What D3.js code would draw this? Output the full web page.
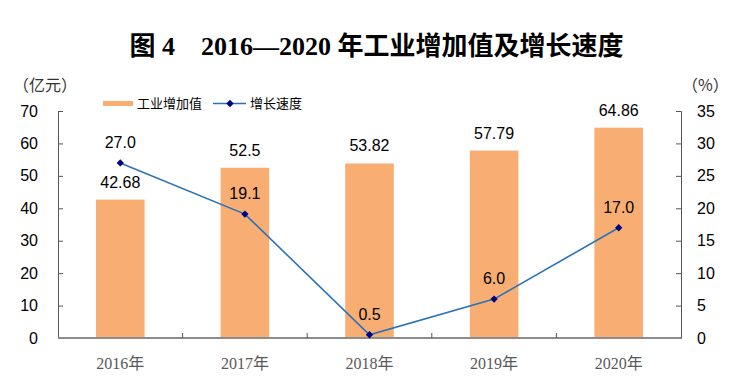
<!DOCTYPE html>
<html>
<head>
<meta charset="utf-8">
<script src="https://cdn.jsdelivr.net/npm/d3@7/dist/d3.min.js"></script>
<style>
  body { margin: 0; background: #fff; }
  svg { display: block; }
</style>
</head>
<body>
<div id="chart"></div>
<script>
// data
var years = ["2016年", "2017年", "2018年", "2019年", "2020年"];
var addedValue = [42.68, 52.5, 53.82, 57.79, 64.86];
var growthRate = [27.0, 19.1, 0.5, 6.0, 17.0];
var leftTicks = [0, 10, 20, 30, 40, 50, 60, 70];
var rightTicks = [0, 5, 10, 15, 20, 25, 30, 35];

var width = 753, height = 389;
var margin = {left: 58, right: 72, top: 111, bottom: 51};

var svg = d3.select("#chart").append("svg")
  .attr("width", width)
  .attr("height", height);

var x = d3.scaleBand()
  .domain(years)
  .range([margin.left, width - margin.right])
  .paddingInner(0.61)
  .paddingOuter(0.305);

var xb = d3.scaleBand()
  .domain(years)
  .range([margin.left, width - margin.right]);

var yL = d3.scaleLinear().domain([0, 70]).range([height - margin.bottom, margin.top]);
var yR = d3.scaleLinear().domain([0, 35]).range([height - margin.bottom, margin.top]);

var numFont = "'Liberation Sans', Arial, sans-serif";
var cjkFont = "'Noto Sans CJK SC', sans-serif";

// title
svg.append("text")
  .attr("x", width / 2)
  .attr("y", 55)
  .attr("text-anchor", "middle")
  .style("font-family", "'Liberation Serif', 'Noto Sans CJK SC', serif")
  .style("font-weight", "bold")
  .style("font-size", "26px")
  .text("图 4\u30002016—2020 年工业增加值及增长速度");

// unit labels
svg.append("text")
  .attr("x", 13).attr("y", 91)
  .style("font-family", cjkFont).style("font-size", "16px").style("fill", "#333")
  .text("（亿元）");
svg.append("text")
  .attr("x", 682).attr("y", 91)
  .style("font-family", cjkFont).style("font-size", "16px").style("fill", "#333")
  .text("（%）");

// bars
svg.selectAll("rect.bar")
  .data(addedValue)
  .enter().append("rect")
  .attr("class", "bar")
  .attr("x", function(d, i) { return x(years[i]); })
  .attr("y", function(d) { return yL(d); })
  .attr("width", x.bandwidth())
  .attr("height", function(d) { return yL(0) - yL(d); })
  .style("fill", "#f8ae72");

// left axis
var axL = svg.append("g")
  .attr("transform", "translate(" + margin.left + ",0)")
  .call(d3.axisLeft(yL).tickValues(leftTicks).tickSize(-5).tickPadding(20));
axL.select(".domain").attr("stroke", "#555");
axL.selectAll(".tick line").attr("stroke", "#555");
axL.selectAll(".tick text")
  .style("font-family", numFont).style("font-size", "16px").style("fill", "#000");

// right axis
var axR = svg.append("g")
  .attr("transform", "translate(" + (width - margin.right) + ",0)")
  .call(d3.axisRight(yR).tickValues(rightTicks).tickSize(-5).tickPadding(16));
axR.select(".domain").attr("stroke", "#555");
axR.selectAll(".tick line").attr("stroke", "#555");
axR.selectAll(".tick text")
  .style("font-family", numFont).style("font-size", "16px").style("fill", "#000");

// bottom axis with ticks between categories
var bottom = svg.append("g");
bottom.append("line")
  .attr("x1", margin.left).attr("x2", width - margin.right)
  .attr("y1", yL(0)).attr("y2", yL(0))
  .attr("stroke", "#8c8c8c").attr("stroke-width", 2);
bottom.selectAll("line.sep")
  .data(years.slice(1))
  .enter().append("line")
  .attr("class", "sep")
  .attr("x1", function(d) { return xb(d); })
  .attr("x2", function(d) { return xb(d); })
  .attr("y1", yL(0)).attr("y2", yL(0) - 5)
  .attr("stroke", "#555");
bottom.selectAll("text")
  .data(years)
  .enter().append("text")
  .attr("x", function(d) { return xb(d) + xb.bandwidth() / 2; })
  .attr("y", 369)
  .attr("text-anchor", "middle")
  .style("font-family", "'Liberation Serif', 'Noto Sans CJK SC', serif")
  .style("font-size", "16px")
  .style("fill", "#595959")
  .text(function(d) { return d; });

// bar labels
svg.selectAll("text.barlab")
  .data(addedValue)
  .enter().append("text")
  .attr("class", "barlab")
  .attr("x", function(d, i) { return xb(years[i]) + xb.bandwidth() / 2; })
  .attr("y", function(d) { return yL(d) - 12; })
  .attr("text-anchor", "middle")
  .style("font-family", numFont).style("font-size", "16px")
  .text(function(d) { return d; });

// growth line
var cx = function(i) { return xb(years[i]) + xb.bandwidth() / 2; };
var line = d3.line()
  .x(function(d, i) { return cx(i); })
  .y(function(d) { return yR(d); });

svg.append("path")
  .datum(growthRate)
  .attr("d", line)
  .attr("fill", "none")
  .attr("stroke", "#2a72b8")
  .attr("stroke-width", 1.6);

svg.selectAll("path.pt")
  .data(growthRate)
  .enter().append("path")
  .attr("class", "pt")
  .attr("d", d3.symbol(d3.symbolDiamond2, 34))
  .attr("transform", function(d, i) { return "translate(" + cx(i) + "," + yR(d) + ")"; })
  .style("fill", "#000080");

svg.selectAll("text.linelab")
  .data(growthRate)
  .enter().append("text")
  .attr("class", "linelab")
  .attr("x", function(d, i) { return cx(i); })
  .attr("y", function(d) { return yR(d) - 15; })
  .attr("text-anchor", "middle")
  .style("font-family", numFont).style("font-size", "16px")
  .text(function(d) { return d3.format(".1f")(d); });

// legend
var lg = svg.append("g");
lg.append("rect")
  .attr("x", 103).attr("y", 101).attr("width", 30).attr("height", 5)
  .style("fill", "#f8ae72");
lg.append("text")
  .attr("x", 137).attr("y", 108)
  .style("font-family", cjkFont).style("font-size", "13px")
  .text("工业增加值");
lg.append("line")
  .attr("x1", 213).attr("x2", 246).attr("y1", 103.5).attr("y2", 103.5)
  .attr("stroke", "#2a72b8").attr("stroke-width", 1.6);
lg.append("path")
  .attr("d", d3.symbol(d3.symbolDiamond2, 34))
  .attr("transform", "translate(230,103.5)")
  .style("fill", "#000080");
lg.append("text")
  .attr("x", 250).attr("y", 108)
  .style("font-family", cjkFont).style("font-size", "13px")
  .text("增长速度");
</script>
</body>
</html>
